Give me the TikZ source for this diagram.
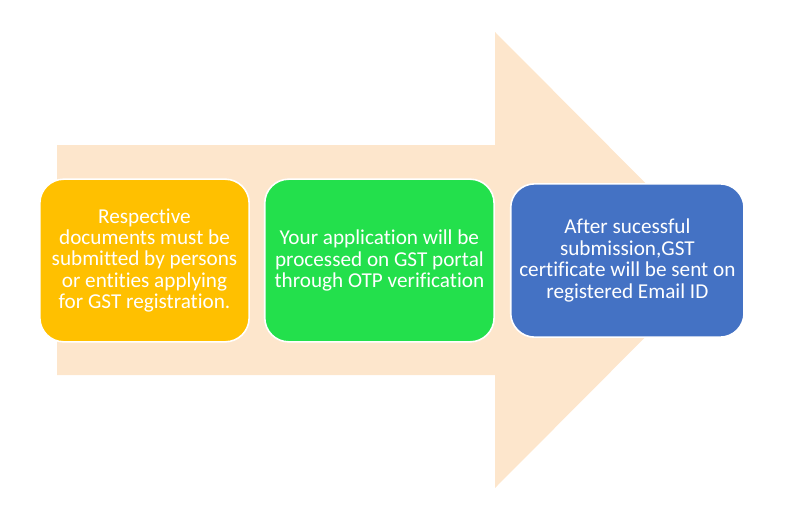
\documentclass[tikz,border=0pt]{standalone}
\usepackage{fontspec}
\setmainfont{Carlito}[Ligatures=NoCommon]
\usepackage{xcolor}
\usetikzlibrary{positioning}
\definecolor{arrowpeach}{HTML}{FDE6CC}
\definecolor{stageyellow}{HTML}{FFC000}
\definecolor{stagegreen}{HTML}{23E04C}
\definecolor{stageblue}{HTML}{4472C4}
\tikzset{
  stage/.style={rounded corners=18pt, draw=white, line width=1.2pt, text=white,
    align=center, inner sep=0pt, minimum height=122pt,
    font=\fontsize{15.9}{16.1}\selectfont}
}

\begin{document}
\begin{tikzpicture}[x=0.75pt, y=-0.75pt]
\useasboundingbox (0,0) rectangle (800,525);
% Flecha grande de fondo
\fill[arrowpeach] (57,145) -- (495,145) -- (495,32) -- (722,260) -- (495,488) -- (495,375) -- (57,375) -- cycle;
% Etapas
\node[stage, fill=stageyellow, minimum width=157pt] (docs) at (144.5,260.5)
  {Respective\\documents must be\\submitted by persons\\or entities applying\\for GST registration.};
\node[stage, fill=stagegreen, minimum width=172pt, right=10.5pt of docs] (portal)
  {Your application will be\\processed on GST portal\\through OTP verification};
\node[stage, fill=stageblue, minimum width=175pt, minimum height=115pt, right=11.25pt of portal] (cert)
  {After sucessful\\submission,GST\\certificate will be sent on\\registered Email ID};
\end{tikzpicture}
\end{document}
